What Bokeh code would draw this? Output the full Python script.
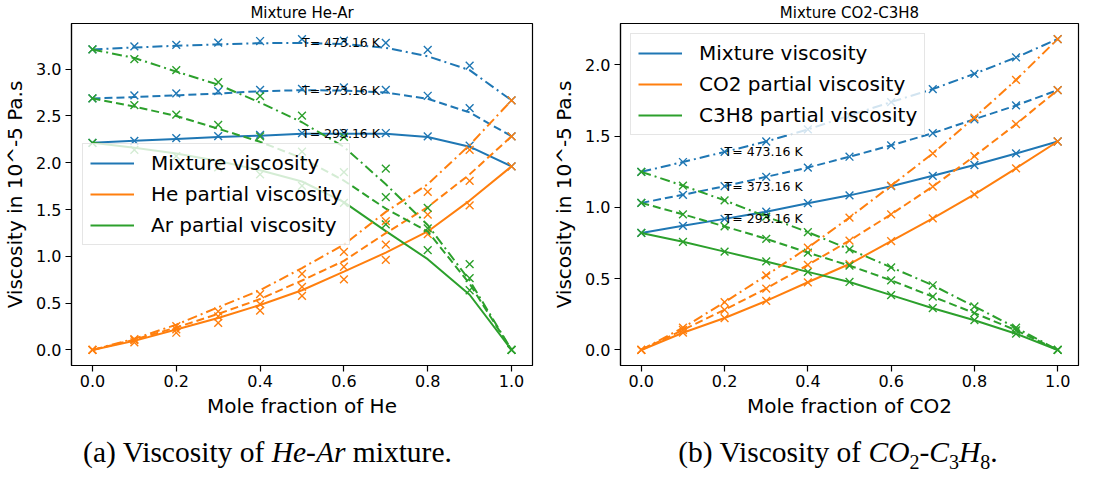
from bokeh.plotting import figure
from bokeh.models import Range1d, FixedTicker, PrintfTickFormatter, Legend, LegendItem, Div, Spacer
from bokeh.layouts import row, column
from bokeh.core.properties import value
from bokeh.embed import file_html
from bokeh.resources import INLINE

# ---------------- data ----------------
mole_fraction = [0.0, 0.1, 0.2, 0.3, 0.4, 0.5, 0.6, 0.7, 0.8, 0.9, 1.0]
temperatures = ["293.16", "373.16", "473.16"]

# He-Ar : model (lines) and measured (x markers)
heAr_mix_293_line = [2.213, 2.235, 2.255, 2.275, 2.290, 2.310, 2.310, 2.310, 2.276, 2.172, 1.962]
heAr_mix_373_line = [2.688, 2.702, 2.720, 2.740, 2.765, 2.776, 2.772, 2.751, 2.684, 2.538, 2.283]
heAr_mix_473_line = [3.211, 3.232, 3.250, 3.265, 3.278, 3.280, 3.270, 3.228, 3.138, 2.990, 2.667]
heAr_mix_293_exp = [2.213, 2.234, 2.263, 2.284, 2.297, 2.318, 2.318, 2.318, 2.283, 2.182, 1.962]
heAr_mix_373_exp = [2.688, 2.720, 2.741, 2.765, 2.778, 2.789, 2.806, 2.778, 2.716, 2.584, 2.283]
heAr_mix_473_exp = [3.211, 3.243, 3.259, 3.284, 3.301, 3.322, 3.305, 3.280, 3.207, 3.037, 2.667]

he_293_line = [0.0, 0.097, 0.219, 0.341, 0.481, 0.638, 0.837, 1.040, 1.266, 1.596, 1.962]
he_373_line = [0.0, 0.110, 0.240, 0.385, 0.544, 0.742, 0.952, 1.248, 1.527, 1.876, 2.283]
he_473_line = [0.0, 0.120, 0.270, 0.456, 0.638, 0.875, 1.126, 1.475, 1.771, 2.189, 2.667]
he_293_exp = [0.0, 0.080, 0.184, 0.289, 0.421, 0.578, 0.753, 0.962, 1.237, 1.544, 1.962]
he_373_exp = [0.0, 0.104, 0.219, 0.359, 0.490, 0.673, 0.889, 1.126, 1.447, 1.806, 2.283]
he_473_exp = [0.0, 0.115, 0.254, 0.411, 0.596, 0.812, 1.049, 1.377, 1.690, 2.137, 2.667]

ar_293_line = [2.213, 2.160, 2.100, 2.020, 1.920, 1.800, 1.580, 1.270, 0.970, 0.590, 0.0]
ar_373_line = [2.688, 2.600, 2.500, 2.364, 2.224, 2.050, 1.810, 1.510, 1.266, 0.707, 0.0]
ar_473_line = [3.211, 3.120, 2.974, 2.835, 2.643, 2.433, 2.170, 1.770, 1.335, 0.742, 0.0]
ar_293_exp = [2.213, 2.137, 2.070, 1.950, 1.876, 1.753, 1.572, 1.342, 1.067, 0.638, 0.0]
ar_373_exp = [2.688, 2.615, 2.514, 2.406, 2.283, 2.120, 1.900, 1.632, 1.300, 0.767, 0.0]
ar_473_exp = [3.211, 3.107, 2.991, 2.862, 2.712, 2.503, 2.276, 1.938, 1.517, 0.916, 0.0]

# CO2-C3H8
co2Mix_293 = [0.821, 0.871, 0.920, 0.970, 1.030, 1.085, 1.149, 1.222, 1.298, 1.379, 1.463]
co2Mix_373 = [1.032, 1.089, 1.149, 1.215, 1.280, 1.356, 1.436, 1.521, 1.619, 1.716, 1.824]
co2Mix_473 = [1.250, 1.319, 1.390, 1.463, 1.548, 1.645, 1.740, 1.831, 1.938, 2.053, 2.182]
co2_293 = [0.0, 0.121, 0.224, 0.344, 0.475, 0.603, 0.764, 0.924, 1.092, 1.275, 1.463]
co2_373 = [0.0, 0.140, 0.282, 0.431, 0.597, 0.768, 0.952, 1.147, 1.360, 1.585, 1.824]
co2_473 = [0.0, 0.156, 0.335, 0.523, 0.718, 0.929, 1.153, 1.379, 1.631, 1.895, 2.182]
c3h8_293 = [0.821, 0.759, 0.690, 0.621, 0.548, 0.477, 0.385, 0.293, 0.209, 0.114, 0.0]
c3h8_373 = [1.032, 0.952, 0.867, 0.780, 0.683, 0.592, 0.489, 0.374, 0.259, 0.138, 0.0]
c3h8_473 = [1.250, 1.153, 1.050, 0.936, 0.827, 0.706, 0.580, 0.454, 0.305, 0.156, 0.0]

x_ticks = [0.0, 0.2, 0.4, 0.6, 0.8, 1.0]
left_y_ticks = [0.0, 0.5, 1.0, 1.5, 2.0, 2.5, 3.0]
right_y_ticks = [0.0, 0.5, 1.0, 1.5, 2.0]

# ---------------- style ----------------
BLUE, ORANGE, GREEN = "#1f77b4", "#ff7f0e", "#2ca02c"
DASH = {"293.16": "solid", "373.16": "8 4", "473.16": "10 4 2 4"}
FONT = "DejaVu Sans"


def make_panel(title, xlabel, groups, labels, ann_index, yticks, width,
               b_left, b_right, legend_location, legend_margin):
    allv = [v for g in groups.values() for s in g for arr in s[1:] for v in arr]
    lo, hi = min(allv), max(allv)
    pad = 0.05 * (hi - lo)
    xlo, xhi = min(mole_fraction), max(mole_fraction)
    xpad = 0.05 * (xhi - xlo)
    p = figure(width=width, height=426, output_backend="svg", toolbar_location=None,
               x_range=Range1d(xlo - xpad, xhi + xpad), y_range=Range1d(lo - pad, hi + pad),
               min_border_left=b_left, min_border_right=b_right,
               min_border_top=0, min_border_bottom=61, title=title)
    p.title.text_font = FONT
    p.title.text_font_size = "15px"
    p.title.text_font_style = "normal"
    p.title.align = "center"
    p.title.standoff = 3
    p.title.text_color = "black"
    p.xgrid.visible = False
    p.ygrid.visible = False
    p.outline_line_color = "black"
    p.outline_line_width = 1.2
    p.outline_line_alpha = 1
    p.background_fill_color = "white"
    p.border_fill_color = "white"

    p.xaxis.axis_label = xlabel
    p.yaxis.axis_label = "Viscosity in 10^-5 Pa.s"
    p.xaxis.ticker = FixedTicker(ticks=x_ticks)
    p.yaxis.ticker = FixedTicker(ticks=yticks)
    p.axis.formatter = PrintfTickFormatter(format="%.1f")
    for ax in (p.xaxis, p.yaxis):
        ax.axis_label_text_font = FONT
        ax.axis_label_text_font_size = "20px"
        ax.axis_label_text_font_style = "normal"
        ax.axis_label_text_color = "black"
        ax.major_label_text_font = FONT
        ax.major_label_text_font_size = "16px"
        ax.major_label_text_color = "black"
        ax.major_tick_out = 6
        ax.major_tick_in = 0
        ax.minor_tick_out = 0
        ax.minor_tick_in = 0
        ax.major_tick_line_color = "black"
        ax.major_tick_line_width = 1.2
        ax.axis_line_color = "black"
        ax.axis_line_width = 1.2
    p.xaxis.major_label_standoff = 3
    p.xaxis.axis_label_standoff = 4
    p.yaxis.major_label_standoff = 4
    p.yaxis.axis_label_standoff = 6

    legend_renderers = {}
    for t in temperatures:
        for color, line_vals, exp_vals in groups[t]:
            r = p.line(mole_fraction, line_vals, line_color=color, line_width=2,
                       line_dash=DASH[t])
            if t == "293.16":
                legend_renderers.setdefault(color, r)
            p.scatter(mole_fraction, exp_vals, marker="x", size=11,
                      line_color=color, line_width=1.4)

    mix_lines = [groups[t][0][1] for t in temperatures]
    p.text(x=[mole_fraction[ann_index]] * 3,
           y=[m[ann_index] for m in mix_lines],
           text=["T= %s K" % t for t in temperatures],
           text_font=value(FONT), text_font_size="12.5px",
           text_baseline="alphabetic", text_align="left", text_color="black")

    items = [LegendItem(label=lab, renderers=[legend_renderers[c]])
             for lab, c in zip(labels, [BLUE, ORANGE, GREEN])]
    legend = Legend(items=items, location=legend_location)
    legend.label_text_font = FONT
    legend.label_text_font_size = "20px"
    legend.label_text_color = "black"
    legend.glyph_width = 44
    legend.glyph_height = 20
    legend.label_height = 20
    legend.label_standoff = 17
    legend.spacing = 7
    legend.padding = 7
    legend.margin = legend_margin
    legend.border_line_color = "#cccccc"
    legend.border_line_width = 1
    legend.background_fill_color = "white"
    legend.background_fill_alpha = 0.8
    p.add_layout(legend)
    return p


left_groups = {
    "293.16": [(BLUE, heAr_mix_293_line, heAr_mix_293_exp), (ORANGE, he_293_line, he_293_exp), (GREEN, ar_293_line, ar_293_exp)],
    "373.16": [(BLUE, heAr_mix_373_line, heAr_mix_373_exp), (ORANGE, he_373_line, he_373_exp), (GREEN, ar_373_line, ar_373_exp)],
    "473.16": [(BLUE, heAr_mix_473_line, heAr_mix_473_exp), (ORANGE, he_473_line, he_473_exp), (GREEN, ar_473_line, ar_473_exp)],
}
right_groups = {
    "293.16": [(BLUE, co2Mix_293, co2Mix_293), (ORANGE, co2_293, co2_293), (GREEN, c3h8_293, c3h8_293)],
    "373.16": [(BLUE, co2Mix_373, co2Mix_373), (ORANGE, co2_373, co2_373), (GREEN, c3h8_373, c3h8_373)],
    "473.16": [(BLUE, co2Mix_473, co2Mix_473), (ORANGE, co2_473, co2_473), (GREEN, c3h8_473, c3h8_473)],
}

p1 = make_panel("Mixture He-Ar", "Mole fraction of He", left_groups,
                ["Mixture viscosity", "He partial viscosity", "Ar partial viscosity"],
                5, left_y_ticks, 540, 64, 8, "center_left", 11)
p2 = make_panel("Mixture CO2-C3H8", "Mole fraction of CO2", right_groups,
                ["Mixture viscosity", "CO2 partial viscosity", "C3H8 partial viscosity"],
                2, right_y_ticks, 540, 80, 2, "top_left", 10)

CAP = ("<div style=\"display:block;width:%dpx;font-family:'Liberation Serif',serif;font-size:29.5px;"
       "line-height:30px;text-align:center;padding-top:11px;color:black;white-space:nowrap\">%s</div>")
SUB = "<sub style=\"font-size:20px\">%s</sub>"
div_a = Div(text=CAP % (535, "(a) Viscosity of <i>He</i>-<i>Ar</i> mixture."),
            width=535, height=45, margin=0)
div_b = Div(text=CAP % (484, "(b) Viscosity of <i>CO</i>" + SUB % "2" + "-<i>C</i>" + SUB % "3"
                        + "<i>H</i>" + SUB % "8" + "."),
            width=484, height=45, margin=0)

layout = column(row(p1, p2), row(div_a, Spacer(width=61, height=45), div_b))

open("out.html", "w").write(file_html(layout, INLINE))
